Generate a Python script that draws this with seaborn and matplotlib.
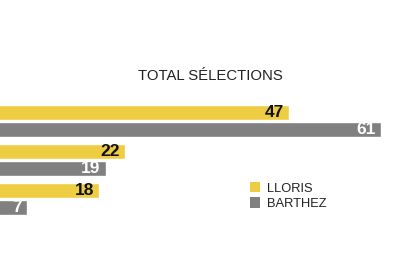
import matplotlib
matplotlib.use("Agg")
import matplotlib.pyplot as plt
import seaborn as sns
import pandas as pd

groups = ["A", "B", "C"]
lloris = [47, 22, 18]
barthez = [61, 19, 7]
series_names = ["LLORIS", "BARTHEZ"]
title = "TOTAL SÉLECTIONS"

colors = {"LLORIS": "#EFCD42", "BARTHEZ": "#808080"}

df = pd.DataFrame({
    "group": groups * 2,
    "player": [series_names[0]] * 3 + [series_names[1]] * 3,
    "value": lloris + barthez,
})

sns.set_theme(style="white")
plt.rcParams["font.family"] = ["Liberation Sans", "DejaVu Sans"]

fig = plt.figure(figsize=(4.13, 2.80), dpi=100)
ax = fig.add_axes([0, 0, 1, 1])
sns.barplot(data=df, y="group", x="value", hue="player", orient="h",
            palette=colors, width=0.88, gap=0.1, ax=ax, legend=True,
            saturation=1)

ax.set_xlim(2.88, 2.88 + 413 / 6.55)
ax.set_ylim(4.077, -3.103)
ax.set_axis_off()

label_colors = ["#111111", "white"]
for cont, lc in zip(ax.containers, label_colors):
    anns = ax.bar_label(cont, padding=-3.5, color=lc, fontsize=12.5,
                        fontweight="bold")
    for a in anns:
        a.set_ha("right")

fig.text(210 / 413, 1 - 76 / 280, title, ha="center", va="center",
         fontsize=10.7, color="#222222")

leg = ax.legend(loc="upper left", bbox_to_anchor=(250 / 413, 1 - 182 / 280),
                frameon=False, fontsize=9.3, borderpad=0, borderaxespad=0,
                handlelength=0.75, handleheight=0.85, handletextpad=0.6,
                labelspacing=0.2)
for h in leg.legend_handles:
    h.set_edgecolor(h.get_facecolor())
    h.set_linewidth(0)
for t in leg.get_texts():
    t.set_color("#222222")

fig.savefig("out.png", dpi=100)
